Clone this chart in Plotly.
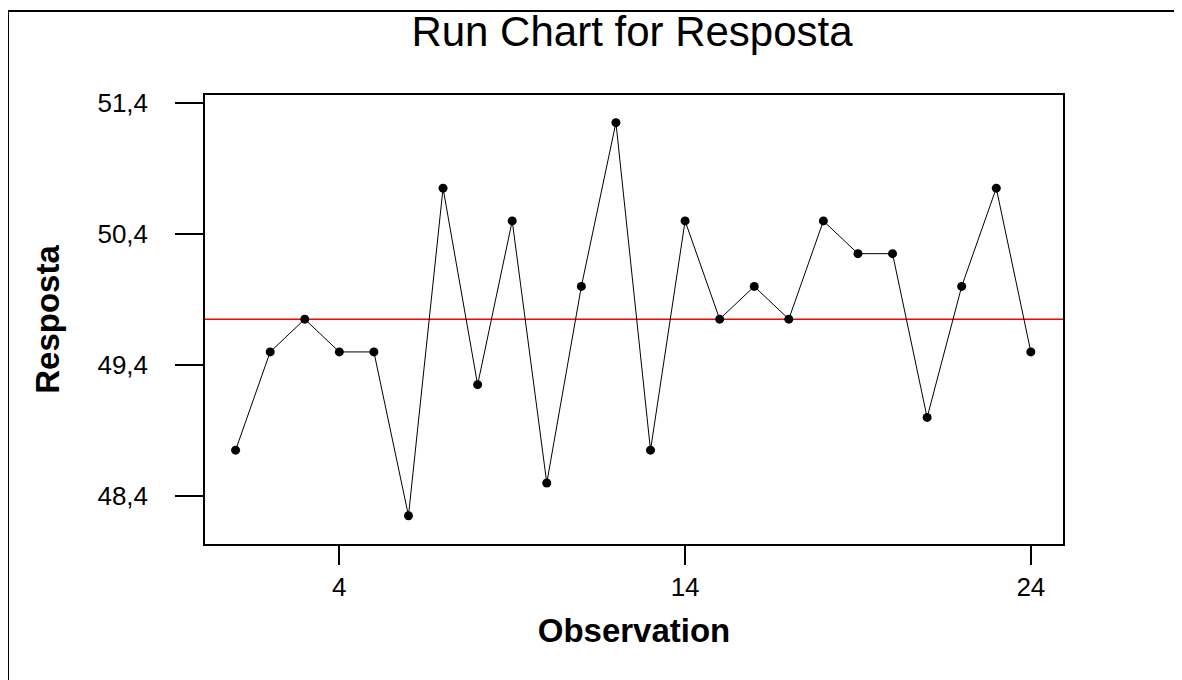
import numpy as np
import plotly.graph_objects as go

observation = list(range(1, 25))
resposta = [48.75, 49.5, 49.75, 49.5, 49.5, 48.25, 50.75, 49.25, 50.5, 48.5,
            50.0, 51.25, 48.75, 50.5, 49.75, 50.0, 49.75, 50.5, 50.25, 50.25,
            49.0, 50.0, 50.75, 49.5]
x_tickvals = [4, 14, 24]
x_ticktext = ["4", "14", "24"]
y_tickvals = [48.4, 49.4, 50.4, 51.4]
y_ticktext = ["48,4", "49,4", "50,4", "51,4"]

median = float(np.median(resposta))

W, H = 1182, 680
OFF = 8  # page body margin
L, R, T, B = 205 - OFF, 1063 - OFF, 95 - OFF, 544 - OFF
FONT = "Liberation Sans, Arial, sans-serif"

fig = go.Figure()
fig.add_trace(go.Scatter(
    x=observation, y=resposta, mode="lines+markers",
    line=dict(color="black", width=1),
    marker=dict(color="black", size=9),
    showlegend=False, hoverinfo="x+y"))

def px(x):
    return (x - OFF - L) / (R - L)

def py(y):
    return (B - (y - OFF)) / (B - T)

shapes = [
    dict(type="line", xref="paper", yref="y", x0=0, x1=1, y0=median, y1=median,
         line=dict(color="#ff0000", width=1.5), layer="below"),
    dict(type="line", xref="paper", yref="paper", x0=px(8), x1=px(8), y0=py(11), y1=py(H + 20),
         line=dict(color="black", width=2)),
    dict(type="line", xref="paper", yref="paper", x0=px(7), x1=px(W + 20), y0=py(11), y1=py(11),
         line=dict(color="black", width=2)),
]

fig.update_layout(
    width=W, height=H,
    margin=dict(l=L, r=W - R, t=T, b=H - B, pad=0),
    paper_bgcolor="white", plot_bgcolor="white",
    font=dict(family=FONT, color="black"),
    title=dict(text="Run Chart for Resposta", x=(632 - OFF) / W, xanchor="center",
               y=1 - (31 - OFF) / H, yanchor="middle", font=dict(size=42, family=FONT)),
    shapes=shapes,
    xaxis=dict(range=[0.115, 24.93], tickvals=x_tickvals, ticktext=x_ticktext,
               showgrid=False, zeroline=False, showline=True, linecolor="black", linewidth=1.5,
               mirror=True, ticks="outside", ticklen=19, tickwidth=1.5, tickcolor="black",
               tickfont=dict(size=26, family=FONT), ticklabelstandoff=0,
               title=dict(text="<b>Observation</b>", font=dict(size=33, family=FONT), standoff=18)),
    yaxis=dict(range=[48.034, 51.461], tickvals=y_tickvals, ticktext=y_ticktext,
               showgrid=False, zeroline=False, showline=True, linecolor="black", linewidth=1.5,
               mirror=True, ticks="outside", ticklen=28, tickwidth=1.5, tickcolor="black",
               tickfont=dict(size=26, family=FONT), ticklabelstandoff=22,
               title=dict(text="<b>Resposta</b>", font=dict(size=33, family=FONT), standoff=28)),
)

fig.write_html("out.html")
